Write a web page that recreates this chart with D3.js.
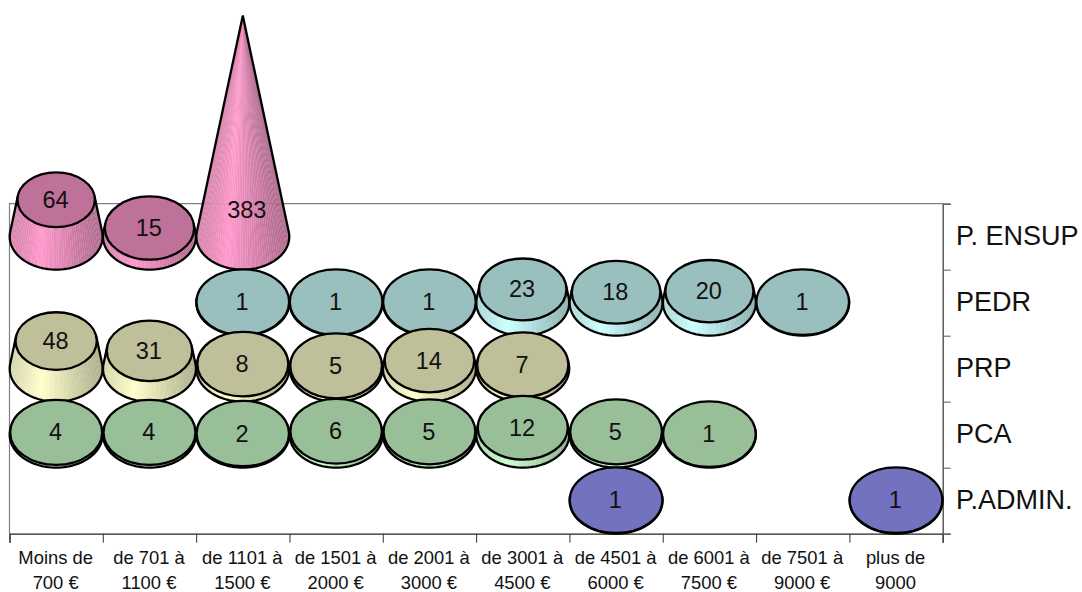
<!DOCTYPE html>
<html><head><meta charset="utf-8">
<script src="https://cdn.jsdelivr.net/npm/d3@7/dist/d3.min.js"></script>
<style>html,body{margin:0;padding:0;background:#fff}svg{display:block}text{font-family:"Liberation Sans",Arial,sans-serif;fill:#111}</style>
</head><body><svg id="c" width="1082" height="592"></svg>
<script>
const categories = [["Moins de","700 €"],["de 701 à","1100 €"],["de 1101 à","1500 €"],["de 1501 à","2000 €"],["de 2001 à","3000 €"],["de 3001 à","4500 €"],["de 4501 à","6000 €"],["de 6001 à","7500 €"],["de 7501 à","9000 €"],["plus de","9000"]];
const rowNames = ["P. ENSUP","PEDR","PRP","PCA","P.ADMIN."];
const ensup = [64,15,383,null,null,null,null,null,null,null];
const pedr  = [null,null,1,1,1,23,18,20,1,null];
const prp   = [48,31,8,5,14,7,null,null,null,null];
const pca   = [4,4,2,6,5,12,5,1,null,null];
const admin = [null,null,null,null,null,null,1,null,null,1];
const rows = [ensup,pedr,prp,pca,admin];
const sideColors = ["#FF99CC","#CCFFFF","#FFFFCC","#CCFFCC","#9999FF"];
const topColors  = ["#BF7299","#99BFBF","#BFBF99","#99BF99","#7272BF"];

const L=9.5,R=942.7,T=203.7,B=533.7;
const svg=d3.select("#c");
const xBand=d3.scaleBand().domain(d3.range(categories.length)).range([L,R]);
const yBand=d3.scaleBand().domain(d3.range(rowNames.length)).range([T,B]);
const xEdge=d3.scaleLinear().domain([0,categories.length]).range([L,R]);
const yEdge=d3.scaleLinear().domain([0,rowNames.length]).range([T,B]);
const hScale=d3.scaleLinear().domain([0,383]).range([0,221]);
const rx=xBand.bandwidth()/2-0.2, ry=yBand.bandwidth()/2-0.1, HMAX=hScale(383);

// back wall
svg.append("path").attr("d",`M${L},${B}V${T}H${R}`).attr("fill","none").attr("stroke","#808080").attr("stroke-width",1.2);

// axes
const axB=svg.append("g").attr("transform",`translate(0,${B})`)
 .call(d3.axisBottom(xEdge).tickValues(d3.range(categories.length+1)).tickSize(9).tickFormat(""));
const axR=svg.append("g").attr("transform",`translate(${R},0)`)
 .call(d3.axisRight(yEdge).tickValues(d3.range(rowNames.length+1)).tickSize(8).tickFormat(""));
axB.select(".domain").attr("stroke","#222").attr("stroke-width",1.3);
axB.selectAll("line").attr("stroke","#444").attr("stroke-width",1.1);
axR.select(".domain").attr("stroke","#444").attr("stroke-width",1.3);
axR.selectAll("line").attr("stroke","#666").attr("stroke-width",1.1);

categories.forEach((c,i)=>{
  const t=svg.append("text").attr("x",xBand(i)+xBand.bandwidth()/2-0.5).attr("text-anchor","middle").attr("font-size",18.4);
  c.forEach((s,j)=>t.append("tspan").attr("x",xBand(i)+xBand.bandwidth()/2-0.5).attr("y",564+j*25).text(s));
});
rowNames.forEach((n,i)=>{
  svg.append("text").attr("x",956).attr("y",yBand(i)+yBand.bandwidth()/2+8.5).attr("font-size",27).text(n);
});

// marks: upper rows first, so that lower rows overlap them
const line=d3.line();
const marks=svg.append("g"), labels=svg.append("g");
const sinT=ry/HMAX, theta=Math.asin(sinT), N=60;
rows.forEach((row,ri)=>{
  const cy=yBand(ri)+yBand.bandwidth()/2;
  const shade=d3.scaleLinear().domain([-1,-0.35,1])
    .range([d3.interpolateRgb("#000",sideColors[ri])(0.84),sideColors[ri],d3.interpolateRgb("#000",sideColors[ri])(0.68)]);
  row.forEach((v,ci)=>{
    if(v==null) return;
    const cx=xBand(ci)+xBand.bandwidth()/2;
    const h=hScale(v), s=1-h/HMAX, tc=cy-h;
    const g=marks.append("g");
    const angles=d3.range(N+1).map(k=>-theta+(Math.PI+2*theta)*k/N);
    const bp=a=>[cx+rx*Math.cos(a),cy+ry*Math.sin(a)];
    const tp=a=>[cx+s*rx*Math.cos(a),tc+s*ry*Math.sin(a)];
    // facets of the side surface
    for(let k=0;k<N;k++){
      const a=angles[k],b=angles[k+1],m=(a+b)/2,c=shade(Math.cos(m));
      g.append("path").attr("d",line([bp(a),bp(b),tp(b),tp(a)])+"Z").attr("fill",c).attr("stroke",c).attr("stroke-width",0.25);
    }
    // silhouette
    g.append("path").attr("d",line([tp(-theta),...angles.map(bp),tp(Math.PI+theta)]))
      .attr("fill","none").attr("stroke","#000").attr("stroke-width",2.3).attr("stroke-linejoin","round");
    // top disc
    if(s>0.001){
      g.append("ellipse").attr("cx",cx).attr("cy",tc).attr("rx",s*rx).attr("ry",s*ry)
       .attr("fill",topColors[ri]).attr("stroke","#000").attr("stroke-width",2.3);
    }
    const tip = s<=0.001;
    labels.append("text").attr("x",tip?cx+4:cx-0.7).attr("y",(tip?cy-27:tc)+8).attr("text-anchor","middle").attr("font-size",23.5).text(v);
  });
});
</script></body></html>
